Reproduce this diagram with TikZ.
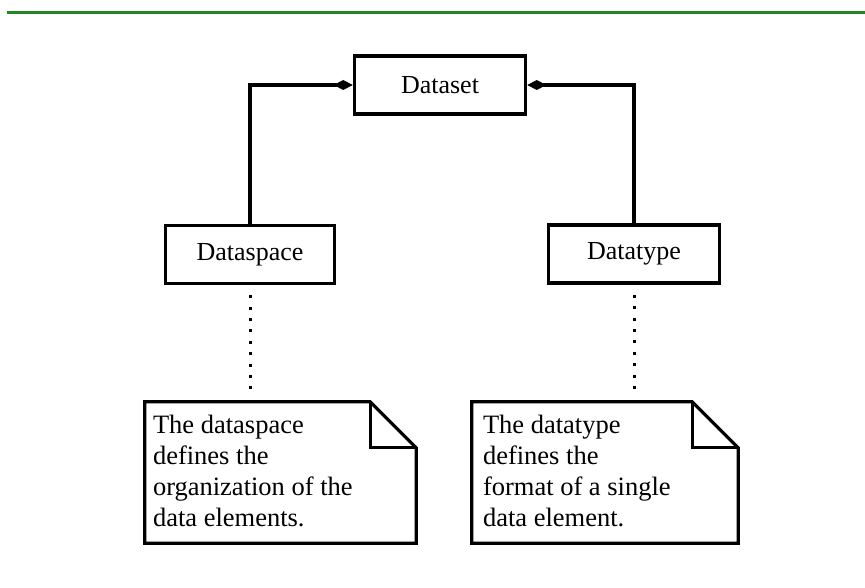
\documentclass[tikz,border=0pt]{standalone}
\usepackage{fontspec}
\setmainfont{Liberation Serif}
\usepackage{tikz}
\usetikzlibrary{arrows.meta, positioning, calc}
\usepackage{xcolor}
\definecolor{rulegreen}{RGB}{34,134,34}

\tikzset{
  box/.style={draw, line width=3.5pt, minimum width=169pt, minimum height=58pt, inner sep=0pt, font=\fontsize{26}{30}\selectfont},
  notebox/.style={draw=none, minimum width=271pt, minimum height=141pt, inner sep=0pt},
  notetext/.style={anchor=north west, inner sep=0pt, align=left, font=\fontsize{26.5}{31}\selectfont},
  link/.style={line width=3.2pt},
  dots/.style={line width=3pt, dash pattern=on 3pt off 8.4pt, shorten <=10pt, shorten >=10pt}
}

\begin{document}
\begin{tikzpicture}[x=1pt, y=-1pt]
  \useasboundingbox (0,0) rectangle (865,588);
  % top rule
  \coordinate (ruleL) at (7,12.5);
  \coordinate (ruleR) at (865,12.5);
  \draw[rulegreen, line width=3pt] (ruleL) -- (ruleR);

  % classes
  \node[box, minimum width=171pt] (dataset) at (440,85) {Dataset};
  \node[box] (dspace) at (250,254.5) {Dataspace};
  \node[box, minimum width=171pt] (dtype) at (634,254) {Datatype};

  % notes
  \node[notebox] (lnote) at (280.5,472.5) {};
  \node[notebox, minimum width=266pt] (rnote) at (605,472.5) {};
  \foreach \n in {lnote, rnote} {
    \draw[link] (\n.south west) -- (\n.north west) -- ($(\n.north east)+(-46,0)$)
      -- ($(\n.north east)+(0,46)$) -- (\n.south east) -- cycle;
    \draw[link] ($(\n.north east)+(-46,0)$) |- ($(\n.north east)+(0,46)$);
  }
  \node[notetext] (ltext) at ($(lnote.north west)+(8,13)$)
    {The dataspace\\defines the\\organization of the\\data elements.};
  \node[notetext] (rtext) at ($(rnote.north west)+(11,13)$)
    {The datatype\\defines the\\format of a single\\data element.};

  % connectors
  \draw[link, {Diamond[length=19pt,width=10pt]}-] (dataset.west) -| (dspace.north);
  \draw[link, {Diamond[length=19pt,width=10pt]}-] (dataset.east) -| (dtype.north);
  \draw[dots] (dspace.south) -- (dspace.south |- lnote.north);
  \draw[dots] (dtype.south) -- (dtype.south |- rnote.north);
\end{tikzpicture}
\end{document}
